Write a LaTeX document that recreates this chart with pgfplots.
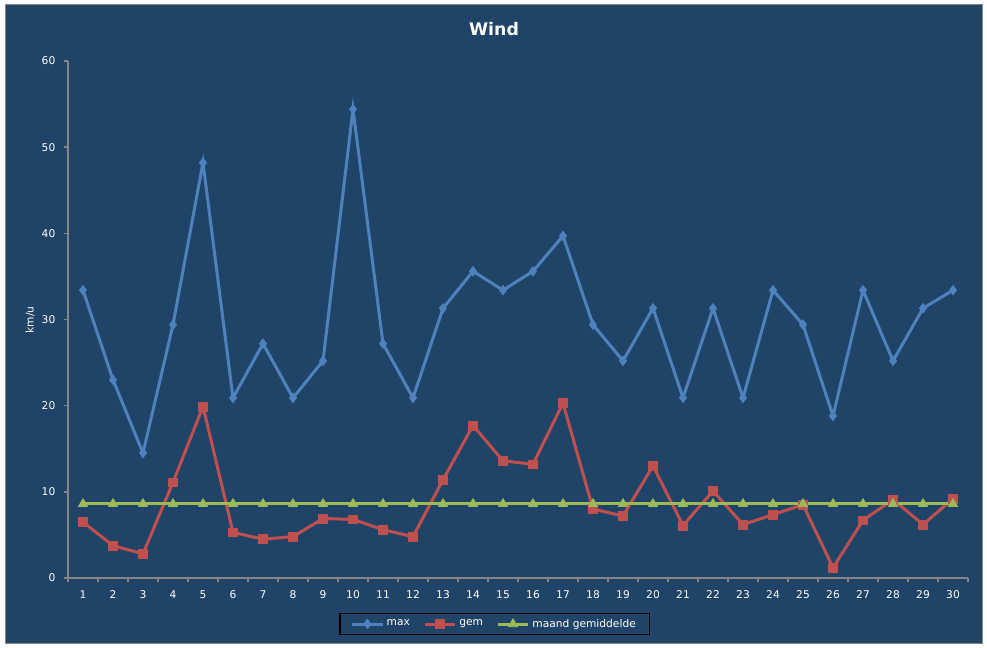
\documentclass[border=0pt]{standalone}
\usepackage{fontspec}
\setmainfont{DejaVu Sans}
\usepackage{pgfplots}
\pgfplotsset{compat=1.18}

\definecolor{bgnavy}{RGB}{31,68,104}
\definecolor{maxblue}{RGB}{79,129,189}
\definecolor{gemred}{RGB}{192,80,77}
\definecolor{avggreen}{RGB}{155,187,89}
\definecolor{axgray}{RGB}{134,134,134}

\begin{document}
\begin{tikzpicture}
  % background and frame (1 px = 0.75 pt)
  \fill[white] (0,0) rectangle (740.25pt,486pt);
  \filldraw[fill=bgnavy, draw=axgray, line width=0.75pt] (3.75pt,3pt) rectangle (736.7pt,482.25pt);
  \node[font=\fontsize{13}{15}\selectfont\bfseries, text=white] at (370.5pt,464.5pt) {Wind};
  \node[font=\fontsize{8}{9}\selectfont, text=white, rotate=90] at (22.5pt,246pt) {km/u};

  \begin{axis}[
    at={(51pt,52.5pt)}, anchor=south west,
    scale only axis,
    width=675pt, height=387.75pt,
    xmin=0.5, xmax=30.5,
    ymin=0, ymax=60,
    axis x line*=bottom, axis y line*=left,
    axis line style={axgray, line width=1.5pt},
    xtick={1,...,30},
    minor xtick={0.5,1.5,...,30.5},
    ytick={0,10,...,60},
    tick align=outside,
    major tick length=3pt, minor tick length=3pt,
    major x tick style={draw=none},
    minor x tick style={axgray, line width=1.1pt},
    major y tick style={axgray, line width=1.1pt},
    /pgf/number format/assume math mode=true,
    ticklabel style={font=\fontsize{8}{9}\selectfont, text=white},
    xticklabel style={yshift=-3pt},
    yticklabel style={xshift=-3pt},
    legend columns=3,
    legend style={
      at={(0.474,-0.089)}, anchor=center,
      fill=bgnavy, draw=black, line width=1pt,
      font=\fontsize{8}{9}\selectfont, text=white,
      inner xsep=8pt, inner ysep=2pt,
      /tikz/every even column/.append style={column sep=8pt},
    },
    legend image code/.code={
      \draw[mark repeat=2, mark phase=2] plot coordinates {(0cm,0cm) (0.4cm,0cm) (0.8cm,0cm)};
    },
  ]
  \addplot[color=maxblue, line width=2.25pt, mark=diamond*, mark size=3.6pt,
           mark options={solid, line width=0.5pt}]
    coordinates {
      (1,33.4)(2,23.0)(3,14.5)(4,29.4)(5,48.2)(6,20.9)(7,27.2)(8,20.9)(9,25.2)(10,54.4)
      (11,27.2)(12,20.9)(13,31.3)(14,35.6)(15,33.4)(16,35.6)(17,39.7)(18,29.4)(19,25.2)(20,31.3)
      (21,20.9)(22,31.3)(23,20.9)(24,33.4)(25,29.4)(26,18.8)(27,33.4)(28,25.2)(29,31.3)(30,33.4)
    };
  \addlegendentry{max}
  \addplot[color=gemred, line width=2.25pt, mark=square*, mark size=3.3pt,
           mark options={solid, line width=0.5pt}]
    coordinates {
      (1,6.5)(2,3.75)(3,2.8)(4,11.1)(5,19.9)(6,5.3)(7,4.5)(8,4.8)(9,6.9)(10,6.8)
      (11,5.6)(12,4.8)(13,11.4)(14,17.7)(15,13.6)(16,13.2)(17,20.3)(18,8.0)(19,7.2)(20,13.0)
      (21,6.1)(22,10.1)(23,6.2)(24,7.35)(25,8.5)(26,1.2)(27,6.7)(28,9.1)(29,6.2)(30,9.2)
    };
  \addlegendentry{gem}
  \addplot[color=avggreen, line width=2.25pt, mark=triangle*, mark size=4pt,
           mark options={solid, line width=0.5pt}]
    coordinates {
      (1,8.6)(2,8.6)(3,8.6)(4,8.6)(5,8.6)(6,8.6)(7,8.6)(8,8.6)(9,8.6)(10,8.6)
      (11,8.6)(12,8.6)(13,8.6)(14,8.6)(15,8.6)(16,8.6)(17,8.6)(18,8.6)(19,8.6)(20,8.6)
      (21,8.6)(22,8.6)(23,8.6)(24,8.6)(25,8.6)(26,8.6)(27,8.6)(28,8.6)(29,8.6)(30,8.6)
    };
  \addlegendentry{maand gemiddelde}
  \end{axis}
\end{tikzpicture}
\end{document}
